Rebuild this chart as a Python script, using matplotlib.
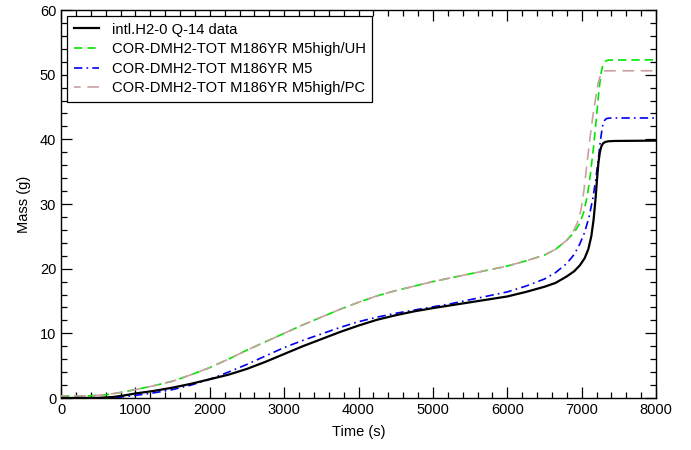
import matplotlib
matplotlib.use("Agg")
import matplotlib.pyplot as plt
from matplotlib.ticker import MultipleLocator

plt.rcParams['font.family'] = ['Liberation Sans', 'DejaVu Sans']

# Data
t_data = [0, 500, 700, 850, 1000, 1250, 1500, 1750, 2000, 2250, 2500, 2750, 3000, 3250, 3500,
          3750, 4000, 4250, 4500, 4750, 5000, 5250, 5500, 5750, 6000, 6250, 6500, 6650, 6800,
          6900, 6975, 7040, 7090, 7130, 7160, 7185, 7205, 7225, 7245, 7265, 7290, 7320, 7360,
          7450, 8000]
m_data = [0, 0.02, 0.15, 0.4, 0.7, 1.1, 1.6, 2.2, 2.9, 3.6, 4.5, 5.6, 6.8, 8.0, 9.1,
          10.2, 11.2, 12.1, 12.8, 13.4, 13.9, 14.35, 14.8, 15.25, 15.7, 16.4, 17.2, 17.8, 18.8,
          19.6, 20.5, 21.6, 23.0, 25.0, 27.5, 30.5, 33.5, 36.3, 38.0, 38.9, 39.4, 39.6, 39.7,
          39.75, 39.8]

t_uh = [0, 400, 600, 800, 1000, 1250, 1500, 1750, 2000, 2250, 2500, 2750, 3000, 3250, 3500,
        3750, 4000, 4250, 4500, 4750, 5000, 5250, 5500, 5750, 6000, 6250, 6500, 6650, 6800,
        6900, 6975, 7030, 7080, 7120, 7160, 7200, 7235, 7265, 7290, 7320, 7360, 8000]
m_uh = [0.3, 0.35, 0.5, 0.85, 1.3, 1.9, 2.6, 3.6, 4.7, 6.0, 7.4, 8.7, 10.0, 11.3, 12.5,
        13.7, 14.8, 15.8, 16.6, 17.3, 18.0, 18.6, 19.2, 19.8, 20.4, 21.2, 22.1, 23.0, 24.4,
        25.6, 27.0, 28.8, 31.5, 34.8, 38.8, 43.5, 47.8, 50.5, 51.6, 52.1, 52.25, 52.3]

t_m5 = [0, 500, 750, 1000, 1250, 1500, 1750, 2000, 2250, 2500, 2750, 3000, 3250, 3500,
        3750, 4000, 4250, 4500, 4750, 5000, 5250, 5500, 5750, 6000, 6250, 6500, 6650, 6800,
        6900, 6975, 7040, 7100, 7150, 7190, 7225, 7255, 7280, 7300, 7330, 7380, 8000]
m_m5 = [0, 0, 0.1, 0.4, 0.8, 1.3, 2.0, 2.9, 4.0, 5.2, 6.5, 7.8, 8.9, 9.9,
        10.9, 11.8, 12.5, 13.1, 13.6, 14.1, 14.6, 15.2, 15.8, 16.4, 17.3, 18.4, 19.4, 20.8,
        22.2, 23.8, 25.6, 28.0, 30.8, 33.8, 37.0, 40.0, 42.0, 42.8, 43.2, 43.3, 43.3]

t_pc = [0, 400, 600, 800, 1000, 1250, 1500, 1750, 2000, 2250, 2500, 2750, 3000, 3250, 3500,
        3750, 4000, 4250, 4500, 4750, 5000, 5250, 5500, 5750, 6000, 6250, 6500, 6650, 6800,
        6880, 6940, 6990, 7030, 7070, 7110, 7150, 7190, 7225, 7255, 7285, 7320, 8000]
m_pc = [0.3, 0.35, 0.5, 0.85, 1.3, 1.9, 2.6, 3.6, 4.7, 6.0, 7.4, 8.7, 10.0, 11.3, 12.5,
        13.7, 14.8, 15.8, 16.6, 17.3, 18.0, 18.6, 19.2, 19.8, 20.4, 21.2, 22.1, 23.0, 24.4,
        25.6, 27.0, 29.0, 32.0, 36.0, 40.0, 43.5, 46.5, 48.8, 50.0, 50.5, 50.6, 50.6]

labels = ["intl.H2-0 Q-14 data",
          "COR-DMH2-TOT M186YR M5high/UH",
          "COR-DMH2-TOT M186YR M5",
          "COR-DMH2-TOT M186YR M5high/PC"]

fig = plt.figure(figsize=(6.91, 4.5), dpi=100)
ax = fig.add_axes([61/691, 1-398/450, (656-61)/691, (398-10)/450])

ax.plot(t_data, m_data, color='black', lw=1.6, label=labels[0], zorder=5)
ax.plot(t_uh, m_uh, color='#00E600', lw=1.2, linestyle=(0, (5, 3)), label=labels[1], zorder=3)
ax.plot(t_m5, m_m5, color='#0000EE', lw=1.2, linestyle=(0, (5, 2.5, 1, 2.5)), label=labels[2], zorder=4)
ax.plot(t_pc, m_pc, color='#C9A0A0', lw=1.2, linestyle=(3, (7, 4)), label=labels[3], zorder=3.5)

ax.set_xlim(0, 8000)
ax.set_ylim(0, 60)
ax.xaxis.set_major_locator(MultipleLocator(1000))
ax.xaxis.set_minor_locator(MultipleLocator(200))
ax.yaxis.set_major_locator(MultipleLocator(10))
ax.yaxis.set_minor_locator(MultipleLocator(2))
ax.tick_params(which='both', direction='in', top=True, right=True, labelsize=10.5, width=0.9)
ax.tick_params(which='major', length=8)
ax.tick_params(which='minor', length=4.5)
for s in ax.spines.values():
    s.set_linewidth(1.0)

ax.set_xlabel("Time (s)", fontsize=10.5, labelpad=6)
ax.set_ylabel("Mass (g)", fontsize=10.5, labelpad=6)

leg = ax.legend(loc='upper left', fontsize=10.6, frameon=True, fancybox=False,
                edgecolor='black', framealpha=1, borderaxespad=0.4,
                handlelength=1.7, handletextpad=0.9, labelspacing=0.38,
                borderpad=0.45)
leg.get_frame().set_linewidth(0.9)

fig.savefig("out.png", dpi=100)
